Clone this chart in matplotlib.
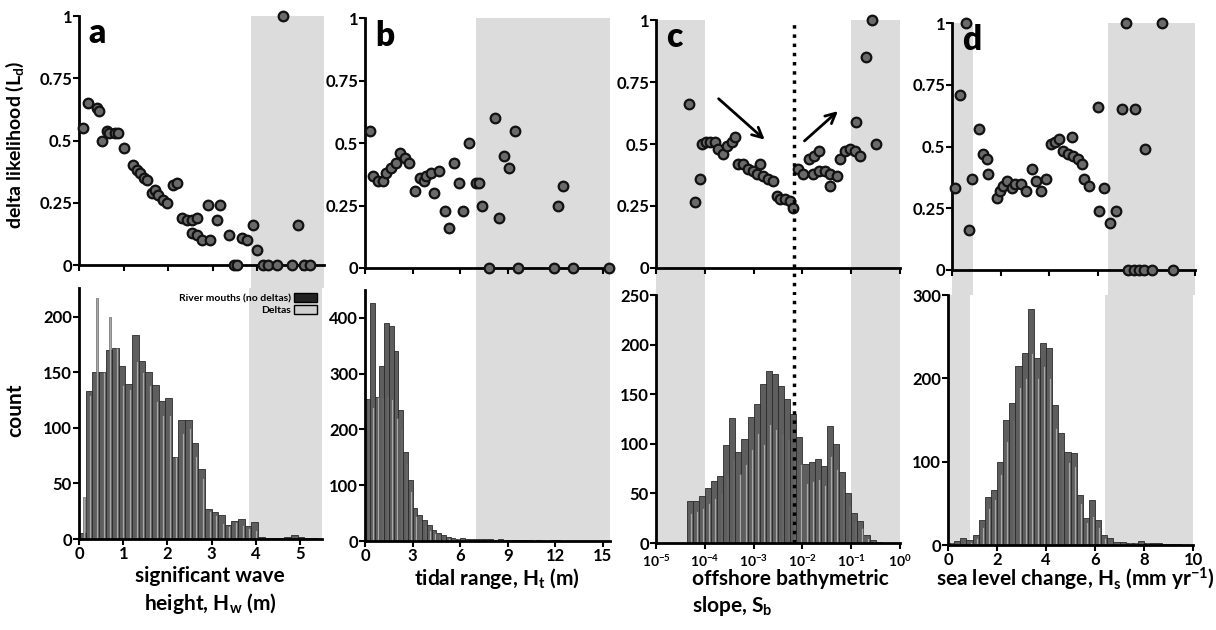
import numpy as np
import matplotlib
matplotlib.use('Agg')
import matplotlib.pyplot as plt
from matplotlib.patches import Patch
from matplotlib.ticker import NullLocator, LogFormatterMathtext

plt.rcParams['font.family'] = ['Lato', 'DejaVu Sans']
plt.rcParams['font.weight'] = 'bold'
plt.rcParams['mathtext.default'] = 'regular'

# --- (a) significant wave height ---
a_x = [0.10, 0.21, 0.40, 0.45, 0.51, 0.62, 0.68, 0.81, 0.87, 1.01, 1.22, 1.30, 1.37, 1.45, 1.52,
       1.63, 1.71, 1.78, 1.89, 1.97, 2.12, 2.20, 2.31, 2.42, 2.53, 2.64, 2.53, 2.64, 2.76, 2.94,
       2.90, 3.17, 3.10, 3.36, 3.47, 3.54, 3.66, 3.77, 3.99, 3.90, 4.14, 4.25, 4.44, 4.78, 5.04,
       5.19, 4.59, 4.91]
a_y = [0.55, 0.65, 0.63, 0.62, 0.50, 0.54, 0.53, 0.53, 0.53, 0.47, 0.40, 0.38, 0.37, 0.35, 0.34,
       0.29, 0.30, 0.28, 0.26, 0.25, 0.32, 0.33, 0.19, 0.18, 0.18, 0.19, 0.13, 0.12, 0.10, 0.10,
       0.24, 0.24, 0.18, 0.12, 0.0, 0.0, 0.11, 0.10, 0.06, 0.16, 0.0, 0.0, 0.0, 0.0, 0.0,
       0.0, 1.0, 0.16]
a_bin = 0.15
a_river = [5, 133, 150, 150, 170, 172, 156, 140, 184, 160, 150, 139, 124, 127, 74, 107, 107, 86,
           63, 27, 24, 22, 13, 16, 18, 12, 15, 2, 1, 1, 1, 2, 4, 2, 1, 1]
a_delta = [38, 130, 217, 150, 200, 172, 139, 135, 160, 150, 139, 124, 112, 112, 74, 95, 100, 75,
           55, 25, 22, 14, 12, 15, 13, 10, 8, 1, 1, 0, 0, 1, 2, 1, 0, 0]

# --- (b) tidal range ---
b_x = [0.31, 0.52, 0.83, 1.15, 1.35, 1.67, 1.98, 2.19, 2.50, 2.77, 3.13, 3.44, 3.75, 3.85, 4.17,
       4.38, 4.69, 5.06, 5.27, 5.63, 5.90, 6.19, 6.56, 6.98, 7.20, 7.40, 7.80, 8.17, 8.44, 8.75,
       9.06, 9.48, 9.65, 11.90, 12.20, 12.50, 13.10, 15.40]
b_y = [0.55, 0.37, 0.35, 0.35, 0.38, 0.40, 0.42, 0.46, 0.44, 0.42, 0.31, 0.36, 0.35, 0.37, 0.38,
       0.30, 0.39, 0.23, 0.16, 0.42, 0.34, 0.23, 0.50, 0.34, 0.34, 0.25, 0.0, 0.60, 0.20, 0.45,
       0.40, 0.55, 0.0, 0.0, 0.25, 0.33, 0.0, 0.0]
b_bin = 0.3
b_river = [255, 427, 258, 313, 391, 385, 340, 235, 160, 110, 59, 47, 38, 28, 20, 15, 10, 8, 5, 4,
           6, 3, 3, 4, 3, 4, 3, 2, 3, 2, 2, 1, 1, 1, 1, 0, 1, 0, 0, 1, 1, 0, 0, 0, 0, 0, 0, 0, 0, 0]
b_delta = [255, 240, 258, 258, 260, 255, 220, 200, 140, 90, 45, 35, 28, 20, 15, 10, 8, 6, 3, 3,
           3, 2, 2, 2, 2, 2, 1, 1, 1, 1, 1, 0, 0, 0, 0, 0, 0, 0, 0, 0, 0, 0, 0, 0, 0, 0, 0, 0, 0, 0]

# --- (c) offshore bathymetric slope (log10) ---
c_logx = [-4.32, -4.20, -4.10, -4.06, -3.98, -3.89, -3.79, -3.72, -3.62, -3.55, -3.45, -3.38,
          -3.31, -3.21, -3.11, -3.02, -2.94, -2.87, -2.80, -2.70, -2.60, -2.53, -2.46, -2.36,
          -2.26, -2.19, -2.09, -1.98, -1.86, -1.76, -1.66, -1.78, -1.66, -1.53, -1.44, -1.44,
          -1.29, -1.23, -1.13, -1.03, -0.92, -0.81, -0.90, -0.70, -0.58, -0.50]
c_y = [0.66, 0.265, 0.36, 0.50, 0.51, 0.51, 0.51, 0.48, 0.46, 0.49, 0.51, 0.53,
       0.42, 0.42, 0.40, 0.39, 0.38, 0.42, 0.37, 0.36, 0.35, 0.29, 0.28, 0.28,
       0.27, 0.24, 0.40, 0.38, 0.44, 0.45, 0.47, 0.38, 0.39, 0.39, 0.38, 0.33,
       0.37, 0.44, 0.47, 0.48, 0.47, 0.45, 0.59, 0.85, 1.0, 0.50]
c_start, c_bin = -4.375, 0.125
c_river = [42, 42, 47, 55, 62, 68, 99, 126, 92, 105, 127, 140, 160, 173, 170, 158, 145, 130, 107,
           80, 82, 85, 78, 118, 100, 72, 50, 30, 22, 8, 3, 1]
c_delta = [30, 32, 35, 40, 45, 50, 70, 85, 70, 80, 95, 111, 100, 120, 115, 110, 105, 95, 80, 60,
           62, 65, 58, 88, 75, 55, 38, 22, 15, 5, 2, 0]
c_split = -2.17  # dotted line, log10 slope

# --- (d) sea level change ---
d_x = [0.14, 0.34, 0.59, 0.68, 0.82, 1.13, 1.29, 1.43, 1.50, 1.84, 1.97, 2.11, 2.27, 2.45, 2.59,
       2.86, 3.06, 3.31, 3.47, 3.67, 3.88, 4.08, 4.22, 4.39, 4.56, 4.76, 4.93, 4.97, 5.17, 5.37,
       5.44, 5.65, 5.99, 6.05, 6.26, 6.49, 6.76, 7.00, 7.18, 7.25, 7.48, 7.55, 7.71, 7.89, 7.93,
       8.23, 8.64, 9.09]
d_y = [0.33, 0.71, 1.0, 0.16, 0.37, 0.57, 0.47, 0.45, 0.39, 0.29, 0.32, 0.34, 0.36, 0.33, 0.35,
       0.35, 0.32, 0.41, 0.36, 0.32, 0.37, 0.51, 0.52, 0.53, 0.48, 0.47, 0.54, 0.46, 0.45, 0.43,
       0.37, 0.34, 0.66, 0.24, 0.33, 0.19, 0.24, 0.65, 1.0, 0.0, 0.0, 0.65, 0.0, 0.0, 0.49,
       0.0, 1.0, 0.0]
d_bin = 0.25
d_river = [3, 5, 8, 6, 12, 30, 58, 66, 100, 150, 170, 215, 230, 283, 225, 243, 237, 168, 134, 112,
           110, 60, 33, 54, 30, 12, 8, 4, 4, 3, 3, 5, 3, 2, 2, 1, 1, 1, 0, 0]
d_delta = [2, 3, 5, 4, 8, 22, 45, 55, 85, 125, 150, 190, 200, 230, 200, 215, 200, 140, 115, 100,
           95, 50, 28, 35, 22, 8, 5, 3, 2, 2, 2, 3, 2, 1, 1, 0, 0, 0, 0, 0]

W, H = 1216, 630
SHADE = '#dcdcdc'


def box(l, t, r, b):
    return [l / W, 1 - b / H, (r - l) / W, (b - t) / H]


def style(ax):
    for s in ['top', 'right']:
        ax.spines[s].set_visible(False)
    for s in ['left', 'bottom']:
        ax.spines[s].set_linewidth(2)
    ax.tick_params(direction='out', length=4, width=1.5, labelsize=12, pad=1)


def panel(top_box, bot_box, xs, ys, edges, river, delta, xlim, ymax, yticks, xticks,
          shades, letter, logx=False):
    at = fig.add_axes(box(*top_box))
    ab = fig.add_axes(box(*bot_box))
    for ax in (at, ab):
        style(ax)
        if logx:
            ax.set_xscale('log')
            ax.xaxis.set_minor_locator(NullLocator())
        ax.set_xlim(*xlim)
        ax.set_xticks(xticks)
    gap = (bot_box[1] - top_box[3]) / (top_box[3] - top_box[1])
    for x0, x1 in shades:
        at.axvspan(x0, x1, ymin=-gap, ymax=1, color=SHADE, lw=0, zorder=0, clip_on=False)
        ab.axvspan(x0, x1, color=SHADE, lw=0, zorder=0)

    # likelihood scatter
    at.scatter(xs, ys, s=48, facecolor='#6a6a6a', edgecolor='#111111', linewidth=1.6,
               clip_on=False, zorder=3)
    at.set_ylim(0, 1)
    at.set_yticks([0, 0.25, 0.5, 0.75, 1])
    at.set_yticklabels(['0', '0.25', '0.5', '0.75', '1'])
    at.tick_params(labelbottom=False)
    at.text(0.04, 0.89, letter, transform=at.transAxes, fontsize=24, fontweight='heavy')

    # histograms: river mouths and deltas
    left = np.array(edges[:-1])
    w = np.diff(edges)
    ab.bar(left, river, width=w, align='edge', color='#5e5e5e', edgecolor='#2b2b2b',
           lw=0.6, zorder=2)
    ab.bar(left + 0.55 * w, delta, width=0.3 * w, align='edge', color='#a9a9a9',
           edgecolor='#505050', lw=0.4, zorder=2)
    ab.set_ylim(0, ymax)
    ab.set_yticks(yticks)
    return at, ab


fig = plt.figure(figsize=(12.16, 6.3), dpi=100)

# (a)
edges = np.arange(len(a_river) + 1) * a_bin
at, ab = panel((79, 16, 324, 265), (79, 288, 322, 539), a_x, a_y, edges, a_river, a_delta,
               (0, 5.5), 226, [0, 50, 100, 150, 200], [0, 1, 2, 3, 4, 5],
               [(3.85, 5.5)], 'a')
handles = [Patch(facecolor='#222222', edgecolor='k'), Patch(facecolor='#cfcfcf', edgecolor='k')]
ab.legend(handles, ['River mouths (no deltas)', 'Deltas'], loc='upper right',
          bbox_to_anchor=(1.0, 1.0), frameon=False, markerfirst=False,
          handlelength=2.2, handleheight=0.9, borderaxespad=0.1, labelspacing=0.2,
          handletextpad=0.3, prop={'weight': 'bold', 'size': 7.5})

# (b)
edges = np.arange(len(b_river) + 1) * b_bin
panel((365, 18, 610, 268), (365, 290, 610, 541), b_x, b_y, edges, b_river, b_delta,
      (0, 15.45), 450, [0, 100, 200, 300, 400], [0, 3, 6, 9, 12, 15],
      [(7.0, 15.45)], 'b')

# (c)
edges = 10 ** (c_start + np.arange(len(c_river) + 1) * c_bin)
at, ab = panel((656, 20, 900, 268), (656, 295, 900, 543), 10 ** np.array(c_logx), c_y, edges,
               c_river, c_delta, (1e-5, 1), 250, [0, 50, 100, 150, 200, 250],
               [1e-5, 1e-4, 1e-3, 1e-2, 1e-1, 1], [(1e-5, 1e-4), (1e-1, 1)], 'c', logx=True)
ab.xaxis.set_major_formatter(LogFormatterMathtext())
ab.tick_params(axis='x', labelsize=10, pad=3)
split = 10 ** c_split
gap = (295 - 268) / (268 - 20)
at.axvline(split, ymin=-gap, ymax=0.99, color='k', ls=':', lw=2.5, clip_on=False, zorder=4)
ab.axvline(split, color='k', ls=':', lw=2.5, zorder=4)
arrow = dict(arrowstyle='->', lw=2, color='k', mutation_scale=18)
at.annotate('', xy=(10 ** -2.73, 0.51), xytext=(10 ** -3.76, 0.69), arrowprops=arrow)
at.annotate('', xy=(10 ** -1.23, 0.64), xytext=(10 ** -2.0, 0.505), arrowprops=arrow)

# (d)
edges = np.arange(len(d_river) + 1) * d_bin
panel((952, 23, 1195, 270), (948, 295, 1193, 545), d_x, d_y, edges, d_river, d_delta,
      (0, 10), 300, [0, 100, 200, 300], [0, 2, 4, 6, 8, 10],
      [(0, 0.88), (6.4, 10)], 'd')

# axis labels
fig.text(15 / W, 1 - 145 / H, 'delta likelihood (L$_d$)', rotation=90, ha='center',
         va='center', fontsize=14)
fig.text(15 / W, 1 - 410 / H, 'count', rotation=90, ha='center', va='center', fontsize=15)
fig.text(210 / W, 1 - 566 / H, 'significant wave\nheight, H$_w$ (m)', ha='center', va='top',
         fontsize=15, linespacing=1.25)
fig.text(497 / W, 1 - 566 / H, 'tidal range, H$_t$ (m)', ha='center', va='top', fontsize=15)
fig.text(692 / W, 1 - 569 / H, 'offshore bathymetric\nslope, S$_b$', ha='left', va='top',
         fontsize=15, linespacing=1.25)
fig.text(1075 / W, 1 - 566 / H, 'sea level change, H$_s$ (mm yr$^{-1}$)', ha='center',
         va='top', fontsize=15)

fig.savefig('out.png', dpi=100)
